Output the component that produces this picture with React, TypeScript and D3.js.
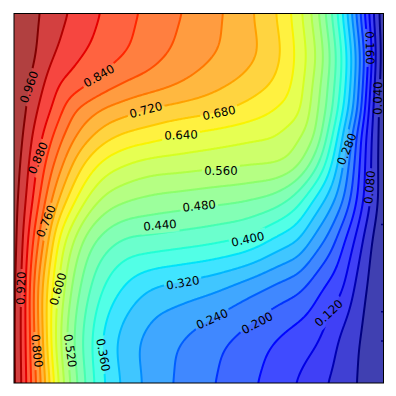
import React, { useMemo } from "react";
import * as d3 from "d3";

// Contour levels drawn and labelled
const levels = d3.range(1, 25).map((i) => i * 0.04);
const bandEdges = d3.range(0, 26).map((i) => i * 0.04);

// Sampling axes of the field (percent of the axes box, x to the right, y upwards)
const xGrid = [0, 0.81, 1.62, 2.71, 3.79, 5.14, 6.5, 8.12, 10.28, 12.45, 15.7, 20.03, 24.36, 30.04, 36.81, 44.93, 54.4, 63.87, 71.99, 77.4, 81.46, 85.52, 89.58, 92.29, 94.99, 96.89, 98.51, 100];
const yGrid = [100, 87.4, 80.6, 73.9, 67.1, 60.4, 50.1, 38.7, 25.2, 11.6, 0];

// Field values, one list per y row
const row100 = [1.0, 0.993, 0.988, 0.983, 0.977, 0.97, 0.963, 0.954, 0.943, 0.931, 0.915, 0.895, 0.876, 0.854, 0.829, 0.802, 0.769, 0.726, 0.672, 0.61, 0.543, 0.453, 0.344, 0.25, 0.16, 0.09, 0.04, 0];
const row87 = [1.0, 0.993, 0.986, 0.98, 0.975, 0.965, 0.952, 0.938, 0.919, 0.907, 0.889, 0.87, 0.854, 0.833, 0.81, 0.784, 0.756, 0.725, 0.68, 0.622, 0.564, 0.48, 0.376, 0.29, 0.19, 0.12, 0.045, 0];
const row81 = [1.0, 0.992, 0.984, 0.973, 0.963, 0.949, 0.936, 0.92, 0.897, 0.877, 0.86, 0.839, 0.817, 0.794, 0.777, 0.756, 0.73, 0.7, 0.663, 0.615, 0.549, 0.469, 0.368, 0.28, 0.18, 0.1, 0.04, 0];
const row74 = [1.0, 0.993, 0.982, 0.967, 0.953, 0.935, 0.917, 0.9, 0.877, 0.85, 0.81, 0.78, 0.756, 0.737, 0.717, 0.703, 0.687, 0.662, 0.633, 0.603, 0.535, 0.457, 0.344, 0.264, 0.16, 0.08, 0.04, 0];
const row67 = [1.0, 0.987, 0.973, 0.956, 0.938, 0.916, 0.898, 0.876, 0.844, 0.815, 0.773, 0.732, 0.7, 0.674, 0.659, 0.64, 0.626, 0.612, 0.597, 0.565, 0.52, 0.42, 0.304, 0.216, 0.13, 0.074, 0.04, 0];
const row60 = [0.995, 0.98, 0.965, 0.945, 0.925, 0.902, 0.88, 0.85, 0.813, 0.78, 0.729, 0.677, 0.639, 0.613, 0.596, 0.588, 0.579, 0.57, 0.563, 0.529, 0.469, 0.38, 0.272, 0.2, 0.12, 0.07, 0.04, 0];
const row50 = [0.99, 0.971, 0.954, 0.931, 0.909, 0.88, 0.851, 0.813, 0.76, 0.716, 0.66, 0.597, 0.555, 0.53, 0.515, 0.506, 0.496, 0.485, 0.461, 0.417, 0.36, 0.305, 0.234, 0.173, 0.109, 0.07, 0.04, 0];
const row39 = [0.992, 0.968, 0.944, 0.912, 0.88, 0.84, 0.807, 0.76, 0.688, 0.63, 0.57, 0.503, 0.465, 0.437, 0.429, 0.42, 0.408, 0.3875, 0.346, 0.316, 0.267, 0.225, 0.16, 0.12, 0.068, 0.04, 0.019, 0];
const row25 = [0.99, 0.964, 0.935, 0.895, 0.858, 0.81, 0.76, 0.704, 0.64, 0.587, 0.515, 0.447, 0.396, 0.353, 0.32, 0.304, 0.285, 0.254, 0.224, 0.205, 0.176, 0.145, 0.116, 0.074, 0.043, 0.026, 0.013, 0];
const row12 = [0.99, 0.96, 0.928, 0.893, 0.858, 0.816, 0.77, 0.71, 0.63, 0.564, 0.491, 0.418, 0.355, 0.305, 0.269, 0.243, 0.214, 0.184, 0.157, 0.14, 0.127, 0.1, 0.066, 0.049, 0.0315, 0.02, 0.009, 0];
const row0 = [0.99, 0.96, 0.933, 0.898, 0.864, 0.825, 0.787, 0.733, 0.658, 0.585, 0.509, 0.427, 0.362, 0.31, 0.2675, 0.2326, 0.2, 0.1674, 0.1368, 0.115, 0.096, 0.077, 0.0566, 0.0428, 0.028, 0.0174, 0.0083, 0];
const rows = [row100, row87, row81, row74, row67, row60, row50, row39, row25, row12, row0];

// Contour labels: text, where it sits (percent of the axes box) and its slant in degrees
const labelText = ["0.040", "0.080", "0.120", "0.160", "0.200", "0.240", "0.280", "0.320", "0.360", "0.400", "0.440", "0.480", "0.520", "0.560", "0.600", "0.640", "0.680", "0.720", "0.760", "0.800", "0.840", "0.880", "0.920", "0.960"];
const labelX = [98.5, 96.3, 85.2, 96.3, 65.8, 53.6, 90.1, 45.7, 24.1, 63.3, 39.5, 50.1, 15.2, 56.0, 11.9, 45.2, 55.5, 35.7, 8.7, 6.2, 23.0, 6.5, 1.9, 4.1];
const labelY = [77.1, 53.0, 18.9, 90.7, 16.2, 17.3, 63.3, 27.1, 7.6, 38.9, 42.7, 47.9, 8.7, 57.4, 25.4, 67.1, 73.1, 73.9, 43.8, 8.7, 83.1, 60.9, 25.7, 80.1];
const labelAngle = [-89, -85, -43, 89, -28, -24, -68, -10, 80, -12, -5, -6, 82, 0, -74, -2, -12, -15, -68, 84, -30, -67, -88, -70];

// Small dark marks sitting against the right frame (percent from the bottom)
const edgeMarkY = [42.9, 19.3, 11.4];

const box = { left: 14, right: 383.5, top: 13.5, bottom: 383 };
const PAD = 16;
const SMOOTH = 6;

const xScale = d3.scaleLinear().domain([0, 100]).range([box.left, box.right]);
const yScale = d3.scaleLinear().domain([0, 100]).range([box.bottom, box.top]);

const jetR = d3.scaleLinear().domain([0, 0.35, 0.66, 0.89, 1]).range([0, 0, 1, 1, 0.5]);
const jetG = d3.scaleLinear().domain([0, 0.125, 0.375, 0.64, 0.91, 1]).range([0, 0, 1, 1, 0, 0]);
const jetB = d3.scaleLinear().domain([0, 0.11, 0.34, 0.65, 1]).range([0.5, 1, 1, 0, 0]);
const jet = (t: number) =>
  `rgb(${Math.round(255 * jetR(t))},${Math.round(255 * jetG(t))},${Math.round(255 * jetB(t))})`;

function hermite(xs: number[], ys: number[], limit: boolean) {
  const n = xs.length;
  const d = d3.range(n - 1).map((i) => (ys[i + 1] - ys[i]) / (xs[i + 1] - xs[i]));
  const m = d3.range(n).map((i) => {
    if (i === 0) return d[0];
    if (i === n - 1) return d[n - 2];
    const h0 = xs[i] - xs[i - 1];
    const h1 = xs[i + 1] - xs[i];
    const c = (d[i - 1] * h1 + d[i] * h0) / (h0 + h1);
    if (!limit) return c;
    if (d[i - 1] * d[i] <= 0) return 0;
    const lim = 3 * Math.min(Math.abs(d[i - 1]), Math.abs(d[i]));
    return Math.sign(c) * Math.min(Math.abs(c), lim);
  });
  return (x: number) => {
    const q = Math.max(xs[0], Math.min(xs[n - 1], x));
    let i = d3.bisectRight(xs, q) - 1;
    if (i >= n - 1) i = n - 2;
    const h = xs[i + 1] - xs[i];
    const t = (q - xs[i]) / h;
    const t2 = t * t;
    const t3 = t2 * t;
    return (
      (2 * t3 - 3 * t2 + 1) * ys[i] +
      (t3 - 2 * t2 + t) * h * m[i] +
      (-2 * t3 + 3 * t2) * ys[i + 1] +
      (t3 - t2) * h * m[i + 1]
    );
  };
}

function buildField() {
  const x0 = box.left - PAD;
  const y0 = box.top - PAD;
  const nx = Math.ceil(box.right - box.left + 2 * PAD) + 1;
  const ny = Math.ceil(box.bottom - box.top + 2 * PAD) + 1;
  const yAsc = [...yGrid].reverse();
  const rowsAsc = [...rows].reverse();
  const rowFns = rowsAsc.map((r) => hermite(xGrid, r, true));
  const values = new Float64Array(nx * ny);
  for (let i = 0; i < nx; i++) {
    const xp = xScale.invert(x0 + i);
    const colVals = rowFns.map((f) => f(xp));
    const colFn = hermite(yAsc, colVals, false);
    for (let j = 0; j < ny; j++) {
      values[j * nx + i] = colFn(yScale.invert(y0 + j));
    }
  }
  d3.blur2({ data: values as any, width: nx, height: ny }, SMOOTH, SMOOTH);
  return { values, nx, ny, x0, y0 };
}

export default function App() {
  const model = useMemo(() => {
    const { values, nx, ny, x0, y0 } = buildField();
    const proj = d3.geoTransform({
      point(x: number, y: number) {
        (this as any).stream.point(x0 + x - 0.5, y0 + y - 0.5);
      },
    });
    const path = d3.geoPath(proj as any);
    const contours = d3.contours().size([nx, ny]).smooth(true);
    const bands = bandEdges.slice(0, -1).map((lo, k) => ({
      d: k === 0 ? null : path(contours.contour(values as any, lo) as any),
      color: jet(lo + 0.02),
    }));
    const lines = levels.map((lv) => ({
      d: path(contours.contour(values as any, lv) as any),
      color: jet((lv - levels[0]) / (levels[levels.length - 1] - levels[0])),
    }));
    const labels = labelText.map((text, k) => ({
      text,
      px: xScale(labelX[k]),
      py: yScale(labelY[k]),
      angle: labelAngle[k],
    }));
    return { bands, lines, labels };
  }, []);

  const W = box.right - box.left;
  const H = box.bottom - box.top;

  return (
    <svg
      width={396}
      height={396}
      style={{ position: "absolute", left: 0, top: 0, background: "#fff" }}
      fontFamily="'DejaVu Sans', sans-serif"
    >
      <defs>
        <clipPath id="plot">
          <rect x={box.left} y={box.top} width={W} height={H} />
        </clipPath>
        {model.labels.map((l, k) => (
          <mask key={k} id={`gap${k}`} maskUnits="userSpaceOnUse" x={0} y={0} width={396} height={396}>
            <rect x={0} y={0} width={396} height={396} fill="#fff" />
            <rect
              x={-19}
              y={-8}
              width={38}
              height={16}
              fill="#000"
              transform={`translate(${l.px},${l.py}) rotate(${l.angle})`}
            />
          </mask>
        ))}
      </defs>
      <g clipPath="url(#plot)">
        <g opacity={0.75}>
          {model.bands.map((b, k) =>
            k === 0 ? (
              <rect key={k} x={box.left} y={box.top} width={W} height={H} fill={b.color} />
            ) : (
              <path key={k} d={b.d as string} fill={b.color} />
            )
          )}
        </g>
        {model.lines.map((l, k) => (
          <g key={k} mask={`url(#gap${k})`}>
            <path d={l.d as string} fill="none" stroke={l.color} strokeWidth={2} />
          </g>
        ))}
        {edgeMarkY.map((v, k) => (
          <line
            key={k}
            x1={box.right - 2.5}
            x2={box.right}
            y1={yScale(v)}
            y2={yScale(v)}
            stroke={jet(0)}
            strokeWidth={1.5}
          />
        ))}
      </g>
      {model.labels.map((l, k) => (
        <text
          key={k}
          x={0}
          y={0}
          fontSize={11.7}
          textAnchor="middle"
          dominantBaseline="central"
          fill="#000"
          transform={`translate(${l.px},${l.py}) rotate(${l.angle})`}
        >
          {l.text}
        </text>
      ))}
      <rect x={box.left} y={box.top} width={W} height={H} fill="none" stroke="#000" strokeWidth={1} />
    </svg>
  );
}
